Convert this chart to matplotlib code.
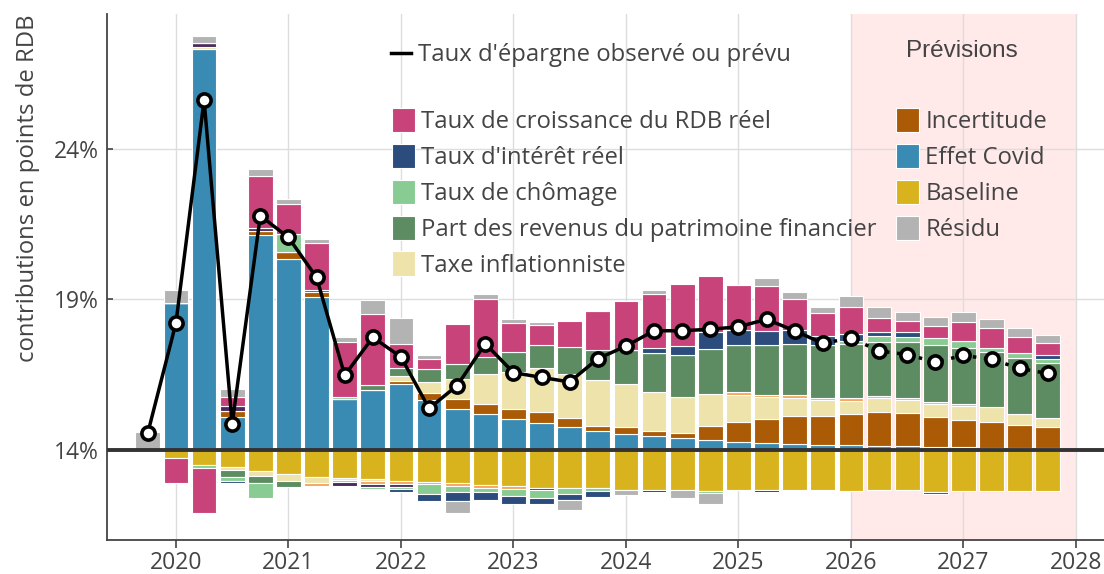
import matplotlib
matplotlib.use("Agg")
import matplotlib.pyplot as plt
from matplotlib.patches import Patch
from matplotlib.lines import Line2D
import numpy as np
import pandas as pd

# quarters 2019T4 .. 2027T4
quarters = pd.period_range("2019Q4", "2027Q4", freq="Q")

# contributions (points de RDB, relative to 14%)
covid = [0, 4.87, 13.3, 1.08, 7.14, 6.34, 5.08, 1.68, 1.99, 2.18, 1.66, 1.34, 1.2, 1.03, 0.89, 0.74, 0.63,
         0.52, 0.45, 0.38, 0.33, 0.27, 0.22, 0.19, 0.16, 0.15, 0.12, 0.12, 0.09, 0.09, 0.07, 0.07, 0.06]
incertitude = [0, 0, 0, 0.2, 0.13, 0.23, 0.15, 0, 0, 0.11, 0.23, 0.33, 0.33, 0.33, 0.36, 0.32, 0.17,
               0.23, 0.17, 0.18, 0.44, 0.65, 0.79, 0.92, 0.96, 1.03, 1.14, 1.09, 0.99, 0.91, 0.86, 0.76, 0.7]
taxe_infl = [0, 0, 0.08, -0.11, -0.17, -0.24, -0.19, -0.07, -0.05, 0.15, 0.37, 0.68, 0.97, 1.22, 1.45, 1.45,
             1.5, 1.44, 1.31, 1.18, 1.07, 0.91, 0.74, 0.62, 0.54, 0.44, 0.45, 0.43, 0.43, 0.45, 0.48, 0.36, 0.28]
autre_orange = [0, 0, 0, 0, 0, 0, -0.08, -0.09, -0.11, -0.09, -0.09, -0.1, -0.09, -0.1, 0, 0, 0,
                0, 0, 0, 0, 0.07, 0.07, 0.07, 0.07, 0.08, 0.07, 0.08, 0.08, 0.08, 0, 0, 0]
autre_violet = [0, 0, 0.13, 0.16, 0.08, 0, 0.08, -0.11, -0.1, -0.1, 0, 0, 0, 0, -0.09, 0, 0,
                0, -0.07, 0, 0, 0, -0.07, 0, 0, 0, 0, 0, 0, 0, 0, 0, 0]
patrimoine = [0, 0, 0, -0.25, -0.21, -0.19, 0, 0, 0.17, 0.26, 0.42, 0.5, 0.58, 0.66, 0.76, 0.9, 1.02,
              1.13, 1.28, 1.39, 1.5, 1.59, 1.64, 1.72, 1.76, 1.8, 1.81, 1.84, 1.87, 1.84, 1.83, 1.87, 1.84]
chomage = [0, 0, -0.11, -0.13, -0.51, 0.59, 0, 0.08, -0.07, -0.07, -0.32, -0.21, -0.14, -0.24, -0.27, -0.18,
           -0.1, 0, 0, 0, -0.08, 0, 0, 0, 0, 0.11, 0.17, 0.18, 0.25, 0.25, 0.15, 0.15, 0.13]
interet = [0, 0, 0, -0.07, 0, 0, 0, 0, 0, -0.1, -0.24, -0.27, -0.26, -0.26, -0.2, -0.21, -0.2,
           0, 0.17, 0.31, 0.56, 0.48, 0.48, 0.47, 0.28, 0.24, 0.15, 0.17, -0.07, 0, 0, 0, 0.15]
rdb = [0, -0.84, -1.5, 0.32, 1.75, 1.0, 1.57, 1.83, 2.34, 0.82, 0.33, 1.34, 1.92, 0.96, 0.67, 0.87, 1.3,
       1.61, 1.79, 2.07, 1.88, 1.5, 1.48, 1.02, 0.77, 0.9, 0.46, 0.36, 0.39, 0.63, 0.66, 0.54, 0.37]
residu = [0.6, 0.43, 0.22, 0.26, 0.22, 0.17, 0.13, 0.15, 0.48, 0.84, 0.13, -0.41, 0.17, 0.15, 0.12, -0.32, 0,
          -0.18, 0.13, -0.27, -0.36, 0, 0.28, 0.24, 0.21, 0.37, 0.37, 0.3, 0.3, 0.32, 0.3, 0.3, 0.28]
baseline = [0, -0.28, -0.5, -0.56, -0.72, -0.81, -0.92, -0.93, -0.99, -1.04, -1.06, -1.11, -1.18, -1.2, -1.26,
            -1.28, -1.28, -1.34, -1.35, -1.35, -1.37, -1.34, -1.35, -1.34, -1.35, -1.36, -1.35, -1.35, -1.41,
            -1.37, -1.37, -1.37, -1.37]

# taux d'epargne observe (jusqu'a 2025T4) puis prevu
taux_epargne = [14.56, 18.21, 25.61, 14.86, 21.77, 21.05, 19.72, 16.47, 17.73, 17.08, 15.37, 16.13, 17.52,
                16.56, 16.4, 16.25, 17.02, 17.44, 17.95, 17.95, 18.0, 18.08, 18.33, 17.95, 17.53, 17.71,
                17.28, 17.16, 16.91, 17.13, 17.0, 16.7, 16.53]
idx_last_obs = 24
ref_level = 14

series = [
    ("Baseline", baseline, "#d9b31e"),
    ("Effet Covid", covid, "#3a8bb3"),
    ("Incertitude", incertitude, "#ab5b06"),
    ("Taxe inflationniste", taxe_infl, "#eee3ab"),
    ("_orange", autre_orange, "#f5a55c"),
    ("_violet", autre_violet, "#4b2a5e"),
    ("Part des revenus du patrimoine financier", patrimoine, "#5e8c62"),
    ("Taux de chômage", chomage, "#88cc93"),
    ("Taux d'intérêt réel", interet, "#2b4c7c"),
    ("Taux de croissance du RDB réel", rdb, "#c8437a"),
    ("Résidu", residu, "#b3b3b3"),
]
colors = {name: c for name, _, c in series}

txt = "#444444"
fs = 17.2
plt.rcParams["font.family"] = ["Open Sans", "DejaVu Sans"]

x = np.array([p.year + (p.quarter - 1) / 4 for p in quarters])

fig = plt.figure(figsize=(11.04, 5.74), dpi=100)
ax = fig.add_axes([107 / 1104, 34 / 574, 1 - 107 / 1104, 1 - 48 / 574])

ax.axvspan(2026, 2028, color="#ffe9e9", zorder=0, lw=0)

pos = np.zeros(len(x))
neg = np.zeros(len(x))
for name, vals, color in series:
    v = np.array(vals, dtype=float)
    bottom = np.where(v >= 0, pos, neg)
    ax.bar(x, v, bottom=ref_level + bottom, width=0.22, color=color,
           edgecolor="white", linewidth=0.8, zorder=2)
    pos += np.where(v > 0, v, 0)
    neg += np.where(v < 0, v, 0)

ax.axhline(ref_level, color="#333333", lw=2.8, zorder=3)

ax.plot(x[:idx_last_obs + 1], taux_epargne[:idx_last_obs + 1], color="black", lw=2.5, zorder=4)
ax.plot(x[idx_last_obs:], taux_epargne[idx_last_obs:], color="black", lw=2.5,
        linestyle=(0, (1, 2.2)), zorder=4)
ax.plot(x, taux_epargne, linestyle="none", marker="o", ms=9.5, mfc="white", mec="black", mew=2.6, zorder=5)

ax.set_xlim(2019.387, 2028.25)
ax.set_ylim(11.0, 28.47)
ax.set_xticks(range(2020, 2029))
ax.set_yticks([14, 19, 24])
ax.set_yticklabels(["14%", "19%", "24%"])
ax.grid(True, color="#dddddd", lw=1, zorder=1)
ax.set_axisbelow(True)
for s in ["top", "right"]:
    ax.spines[s].set_visible(False)
for s in ["left", "bottom"]:
    ax.spines[s].set_color("#444444")
    ax.spines[s].set_linewidth(1.3)
ax.tick_params(axis="x", direction="out", length=6, width=1.2, colors="#444444",
               labelsize=16.5, labelcolor=txt, pad=2)
ax.tick_params(axis="y", direction="in", length=4, width=1.2, colors="#444444",
               labelsize=16.5, labelcolor=txt, pad=6)
ax.set_ylabel("contributions en points de RDB", loc="top", fontsize=fs, color=txt, labelpad=10)

# legends
line_handle = [Line2D([0], [0], color="black", lw=2.5)]
leg1 = fig.legend(line_handle, ["Taux d'épargne observé ou prévu"], loc="center left",
                  bbox_to_anchor=(391 / 1104, 1 - 55 / 574), frameon=False, fontsize=fs,
                  handlelength=0.85, handletextpad=0.3, borderpad=0, borderaxespad=0, labelcolor=txt)

order = ["Taux de croissance du RDB réel", "Taux d'intérêt réel", "Taux de chômage",
         "Part des revenus du patrimoine financier", "Taxe inflationniste",
         "Incertitude", "Effet Covid", "Baseline", "Résidu"]
handles = [Patch(facecolor=colors[n], edgecolor="white", lw=0.8) for n in order]
leg2 = fig.legend(handles, order, ncol=2, loc="upper left",
                  bbox_to_anchor=(392 / 1104, 1 - 108 / 574), frameon=False, fontsize=fs,
                  handlelength=0.95, handleheight=1.2, handletextpad=0.25, labelspacing=0.4,
                  columnspacing=0.85, borderpad=0, borderaxespad=0, labelcolor=txt)

fig.text(962 / 1104, 1 - 51 / 574, "Prévisions", ha="center", va="center",
         family="Liberation Sans", fontsize=17.5, color=txt)

fig.savefig("out.png", dpi=100)
